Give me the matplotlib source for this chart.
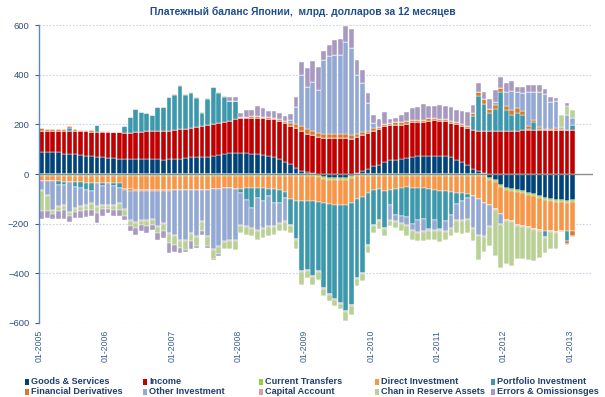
import numpy as np
import matplotlib
matplotlib.use("Agg")
import matplotlib.pyplot as plt
from matplotlib.patches import Rectangle

plt.rcParams['font.family'] = ['Liberation Sans', 'DejaVu Sans']

title = "Платежный баланс Японии,  млрд. долларов за 12 месяцев"

series_names = ["Goods & Services", "Income", "Current Transfers", "Direct Investment",
                "Portfolio Investment", "Financial Derivatives", "Other Investment",
                "Capital Account", "Chan in Reserve Assets", "Errors & Omissionsges"]
series_colors = ["#00427A", "#C00000", "#9CCB3B", "#F79646", "#3B98AD",
                 "#D97A2B", "#94A8D4", "#D4A0A0", "#B9D195", "#A899C2"]

tick_labels = ["01-2005", "01-2006", "01-2007", "01-2008", "01-2009",
               "01-2010", "01-2011", "01-2012", "01-2013"]

goods_services = [88, 88, 87, 87, 82, 81, 79, 76, 72, 71, 69, 67,
                  65, 63, 62, 60, 60, 60, 60, 60, 60, 59, 57, 60,
                  60, 62, 65, 67, 68, 70, 70, 72, 76, 80, 83, 85,
                  84, 84, 82, 80, 78, 74, 70, 62, 50, 40, 25, 12,
                  10, 3, -6, -12, -15, -17, -18, -16, -8, 5, 12, 22,
                  31, 38, 48, 55, 58, 62, 66, 70, 71, 71, 71, 71,
                  71, 71, 67, 58, 48, 36, 22, 12, 4, -16, -23, -44,
                  -57, -61, -63, -70, -76, -80, -87, -97, -100, -103, -106, -107,
                  -103]

income = [87, 87, 88, 88, 93, 94, 94, 96, 100, 100, 102, 103,
          105, 106, 106, 107, 107, 108, 110, 112, 112, 113, 116, 115,
          117, 118, 118, 119, 122, 124, 127, 128, 128, 128, 131, 135,
          140, 142, 144, 146, 147, 149, 150, 152, 155, 155, 162, 163,
          152, 153, 150, 146, 145, 145, 145, 145, 142, 144, 146, 143,
          144, 143, 144, 141, 140, 136, 136, 138, 137, 138, 143, 145,
          143, 141, 140, 142, 147, 150, 156, 160, 168, 172, 172, 172,
          175, 175, 175, 176, 176, 176, 176, 176, 176, 177, 176, 176,
          176]

current_transfers = [-8, -8, -8, -8, -8, -8, -8, -8, -8, -8, -8, -8,
                     -8, -8, -8, -8, -8, -8, -8, -8, -8, -8, -8, -8,
                     -8, -8, -8, -8, -8, -8, -8, -8, -8, -8, -8, -8,
                     -8, -8, -8, -8, -8, -8, -8, -8, -8, -8, -8, -8,
                     -8, -8, -8, -8, -8, -8, -8, -8, -8, -8, -8, -8,
                     -8, -8, -8, -8, -8, -8, -8, -8, -8, -8, -8, -8,
                     -8, -8, -8, -8, -8, -8, -8, -8, -8, -8, -8, -8,
                     -8, -8, -8, -8, -8, -8, -8, -8, -8, -8, -8, -8,
                     -8]

direct_investment = [-22, -22, -22, -22, -24, -24, -25, -25, -27, -28, -29, -30,
                     -27, -28, -30, -52, -54, -55, -55, -56, -56, -57, -56, -55,
                     -56, -57, -58, -58, -57, -56, -55, -54, -52, -50, -50, -52,
                     -52, -50, -50, -49, -50, -52, -54, -57, -66, -93, -100, -102,
                     -102, -102, -98, -98, -99, -99, -98, -100, -102, -92, -84, -67,
                     -58, -54, -60, -55, -52, -49, -45, -47, -48, -49, -54, -58,
                     -62, -62, -64, -67, -69, -72, -82, -92, -107, -101, -109, -110,
                     -119, -121, -133, -133, -129, -133, -129, -123, -122, -123, -116, -115,
                     -119]

portfolio_investment = [0, 0, 0, -13, -13, 9, -20, -23, -28, -34, 28, -10,
                        0, -14, -18, 25, 62, 95, 79, 73, 66, 97, 96, 137,
                        142, 173, 136, 139, 115, 51, 104, 150, 121, 104, 78, 72,
                        -16, -45, -79, -40, -52, -30, -55, -52, -23, -103, -154, -282,
                        -275, -301, -279, -340, -363, -381, -395, -428, -410, -318, -306, -209,
                        -138, -122, -149, -60, -104, -113, -122, -145, -129, -123, -160, -119,
                        -152, -120, -93, -45, -33, -15, 54, 143, 111, 74, 91, 157,
                        83, 63, 70, 63, 5, 32, 5, -27, 0, 0, 0, -41,
                        23]

financial_derivatives = [12, 6, 6, 8, 8, 10, 8, 6, 5, 5, 0, 4,
                         2, 2, 2, -5, -5, -5, -5, -5, -5, -5, -5, -4,
                         4, 5, 5, 5, 6, 5, 4, 2, 4, 3, 2, 2,
                         4, 5, 6, 6, 6, 6, 7, 8, 10, 12, 13, 20,
                         18, 18, 16, 16, 16, 16, 16, 16, 15, 12, 10, 10,
                         10, 10, 10, 10, 10, 10, 10, 10, 10, 10, 10, 10,
                         8, 8, 8, 9, 8, 8, 13, 17, 19, 17, 16, 17,
                         16, 20, 20, 13, 11, 8, 8, 7, 7, 8, 4, -9,
                         -21]

other_investment = [-33, -53, -113, -87, -78, -122, -84, -71, -60, -47, -93, -75,
                    -90, -73, -61, -76, -117, -126, -116, -115, -112, -140, -128, -170,
                    -180, -199, -201, -171, -186, -126, -188, -242, -228, -213, -206, -204,
                    -128, -107, -80, -127, -107, -120, -93, -80, -93, 10, 70, 204,
                    172, 198, 173, 298, 315, 319, 319, 370, 350, 236, 198, 110,
                    20, -3, -2, -61, -26, -27, -30, -25, -47, -50, -2, -40,
                    -3, -40, -53, -65, -75, -85, -127, -144, -134, -86, 10, -40,
                    58, 78, 67, 76, 137, 114, 141, 141, 107, 107, 8, 60,
                    27]

capital_account = [-4, -4, -4, -4, -4, -4, -4, -4, -4, -4, -4, -4,
                   -4, -4, -4, -4, -4, -4, -4, -4, -4, -4, -4, -4,
                   -4, -4, -4, -4, -4, -4, -4, -4, -4, -4, -4, -4,
                   -4, -4, -4, -4, -4, -4, -4, -4, -4, -4, -4, -4,
                   -4, -4, -4, -4, -4, -4, -4, -4, -4, -4, -4, -4,
                   -4, -4, -4, -4, -4, -4, -4, -4, -4, -4, -4, -4,
                   -4, -4, -4, -4, -4, -4, -4, -4, -4, -4, -4, -4,
                   -4, -4, -4, -4, -4, -4, -4, -4, -4, -4, -4, -4,
                   -4]

reserve_assets = [-83, -63, -16, -13, -16, -12, -13, -16, -16, -22, -23, -14,
                  -12, -16, -22, -23, -22, -19, -16, -22, -19, -23, -30, -36,
                  -36, -30, -34, -30, -36, -37, -33, -34, -32, -29, -33, -37,
                  -30, -30, -30, -36, -36, -34, -30, -30, -34, -30, -36, -49,
                  -29, -30, -30, -30, -23, -23, -20, -36, -36, -30, -30, -30,
                  -29, -29, -27, -22, -23, -29, -41, -35, -35, -37, -38, -38,
                  -45, -30, -29, -48, -51, -53, -50, -97, -60, -75, -185, -173,
                  -176, -177, -136, -129, -130, -126, -110, -61, -70, -66, 48, 37,
                  33]

errors_omissions = [-31, -27, -18, -34, -38, -24, -23, -30, -30, -27, -40, -29,
                    -17, -27, -27, -16, -21, -27, -27, -27, -20, -27, -26, -41,
                    -31, -20, -8, -33, -8, -13, -11, -5, -7, 0, 16, 16,
                    17, 25, 24, 43, 34, 26, 28, 23, 19, 24, 40, 52,
                    74, 83, 90, 36, 44, 60, 63, 65, 76, 63, 54, 41,
                    34, 31, 48, 16, 19, 28, 38, 48, 52, 64, 51, 49,
                    57, 55, 53, 50, 49, 55, 33, 33, 27, 39, 50, 44,
                    36, 39, 20, 24, 28, 27, 29, 20, 20, 16, 0, 13,
                    0]

all_series = [goods_services, income, current_transfers, direct_investment,
              portfolio_investment, financial_derivatives, other_investment,
              capital_account, reserve_assets, errors_omissions]

W, H = 605, 397
fig = plt.figure(figsize=(W / 100, H / 100), dpi=100)
ax = fig.add_axes([39 / W, 1 - 323 / H, (593 - 39) / W, (323 - 25) / H])

n = len(goods_services)
x = np.arange(n) + 0.5
pos_bottom = np.zeros(n)
neg_bottom = np.zeros(n)
for vals, color in zip(all_series, series_colors):
    v = np.array(vals, dtype=float)
    p = np.where(v > 0, v, 0)
    q = np.where(v < 0, v, 0)
    ax.bar(x, p, bottom=pos_bottom, width=0.86, color=color,
           edgecolor="white", linewidth=0.3, zorder=2)
    ax.bar(x, q, bottom=neg_bottom, width=0.86, color=color,
           edgecolor="white", linewidth=0.3, zorder=2)
    pos_bottom += p
    neg_bottom += q

ax.set_xlim(0, 100.2)
ax.set_ylim(-600, 600)
ax.set_yticks([-600, -400, -200, 0, 200, 400, 600])
for yv in [-600, -400, -200, 200, 400, 600]:
    ax.axhline(yv, color="#C9D4E3", linestyle=(0, (1.5, 1.5)), linewidth=0.8, zorder=0)
ax.axhline(0, color="#8C8C8C", linewidth=1.0, zorder=3)

ax.set_xticks(np.arange(0, 97, 12))
ax.set_xticklabels(tick_labels, rotation=90, fontsize=6.3, color="#3A5F8F")
ax.tick_params(axis="x", length=0, pad=5)
ax.tick_params(axis="y", labelsize=6.8, colors="#3A5F8F", length=3, width=0.8,
               direction="out", pad=4)
for lab in ax.get_yticklabels():
    lab.set_color("#2E4F7A")

for s in ["top", "right", "bottom"]:
    ax.spines[s].set_visible(False)
ax.spines["left"].set_color("#5B89BE")
ax.spines["left"].set_linewidth(1.0)

fig.text(0.5, 1 - 12 / H, title, ha="center", va="center", fontsize=7.4,
         fontweight="bold", color="#1F4E8C")

# legend
col_x = [25, 143, 259, 375, 491]
row_y = [382, 392]
for i, (name, color) in enumerate(zip(series_names, series_colors)):
    cx = col_x[i % 5]
    cy = row_y[i // 5]
    fig.patches.append(Rectangle((cx / W, 1 - (cy + 3) / H), 4 / W, 6 / H,
                                 transform=fig.transFigure, facecolor=color,
                                 edgecolor="none"))
    fig.text((cx + 6) / W, 1 - cy / H, name, ha="left", va="center",
             fontsize=6.6, color="#1F3F6F", fontweight="bold")

fig.savefig("out.png", dpi=100)
